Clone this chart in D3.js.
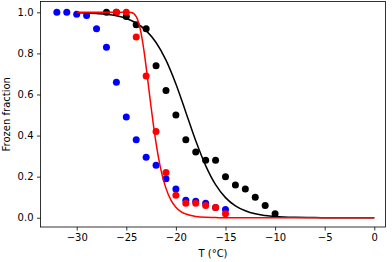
<!DOCTYPE html>
<html>
<head>
<meta charset="utf-8">
<script src="https://cdn.jsdelivr.net/npm/d3@7"></script>
<style>
html,body{margin:0;padding:0;background:#fff;}
svg{display:block;}
text{font-family:"DejaVu Sans",sans-serif;}
</style>
</head>
<body>
<svg id="chart" width="392" height="262"></svg>
<script>
// Scatter data (temperature °C, frozen fraction)
const blueT = [-32,-31,-30,-29,-28,-27,-26,-25,-24,-23,-22,-21,-20,-19,-18,-17,-16,-15];
const blueF = [1.0,1.0,0.99,0.985,0.92,0.83,0.66,0.49,0.38,0.295,0.255,0.19,0.14,0.085,0.08,0.07,0.05,0.04];

const redT = [-26,-25,-24,-23,-22,-21,-20,-19,-18,-17,-16,-15];
const redF = [1.0,1.0,0.88,0.69,0.42,0.22,0.11,0.07,0.07,0.06,0.05,0.02];

const blackT = [-27,-26,-25,-24,-23,-22,-21,-20,-19,-18,-17,-16,-15,-14,-13,-12,-11,-10];
const blackF = [1.0,1.0,0.98,0.94,0.92,0.74,0.62,0.50,0.38,0.32,0.28,0.28,0.20,0.16,0.14,0.10,0.06,0.02];

// Fitted curves
const blackCurveT = [-30,-29,-28,-27,-26,-25,-24,-23,-22,-21,-20,-19,-18,-17,-16,-15,-14,-13,-12,-11,-10,-8,-6,-4,-2,0];
const blackCurveF = [0.998,0.997,0.994,0.990,0.983,0.970,0.948,0.911,0.853,0.767,0.651,0.514,0.375,0.254,0.161,0.098,0.058,0.034,0.019,0.011,0.006,0.002,0.001,0.0,0.0,0.0];

const redCurveT = [-30,-26,-25,-24.5,-24,-23.75,-23.5,-23.25,-23,-22.75,-22.5,-22.25,-22,-21.75,-21.5,-21.25,-21,-20.5,-20,-19.5,-19,-18,-17,-16,-15,-14,-12,-10,0];
const redCurveF = [1.0,1.0,1.0,0.999,0.979,0.948,0.896,0.823,0.734,0.636,0.538,0.446,0.363,0.292,0.232,0.183,0.143,0.086,0.051,0.030,0.018,0.006,0.002,0.001,0.0,0.0,0.0,0.0,0.0];

const xTicks = [-30,-25,-20,-15,-10,-5,0];
const yTicks = [0.0,0.2,0.4,0.6,0.8,1.0];

const svg = d3.select("#chart");
const L = 40.5, R = 385.5, T = 1.5, B = 227;

const x = d3.scaleLinear().domain([-33.65, 1.13]).range([L, R]);
const y = d3.scaleLinear().domain([-0.045, 1.0526]).range([B, T]);

const minus = s => s.replace("-", "\u2212");

// scatter points
function dots(ts, fs, color) {
  svg.append("g").selectAll("circle").data(ts.map((t,i)=>[t,fs[i]])).join("circle")
    .attr("cx", d=>x(d[0])).attr("cy", d=>y(d[1])).attr("r", 3.5).attr("fill", color);
}
dots(blueT, blueF, "#0000ff");
dots(blackT, blackF, "#000000");
dots(redT, redF, "#ff0000");

// curves
const line = d3.line().x(d=>x(d[0])).y(d=>y(d[1])).curve(d3.curveMonotoneX);
svg.append("path").datum(blackCurveT.map((t,i)=>[t,blackCurveF[i]]))
  .attr("d", line).attr("fill","none").attr("stroke","#000").attr("stroke-width",1.5);
svg.append("path").datum(redCurveT.map((t,i)=>[t,redCurveF[i]]))
  .attr("d", line).attr("fill","none").attr("stroke","#ff0000").attr("stroke-width",1.5);

// axes
const xAxis = d3.axisBottom(x).tickValues(xTicks).tickSize(3.5).tickPadding(3.5)
  .tickFormat(d => minus(d3.format("d")(d)));
const gx = svg.append("g").attr("transform", `translate(0,${B})`).call(xAxis);
const yAxis = d3.axisLeft(y).tickValues(yTicks).tickSize(3.5).tickPadding(3.5)
  .tickFormat(d3.format(".1f"));
const gy = svg.append("g").attr("transform", `translate(${L},0)`).call(yAxis);
[gx, gy].forEach(g => {
  g.select(".domain").remove();
  g.selectAll(".tick line").attr("stroke","#000").attr("stroke-width",0.8);
  g.selectAll(".tick text").attr("fill","#000").style("font-size","10px").style("font-family","DejaVu Sans");
});

// frame
svg.append("rect").attr("x", L).attr("y", T).attr("width", R-L).attr("height", B-T)
  .attr("fill","none").attr("stroke","#000").attr("stroke-width",0.8);

// labels
svg.append("text").attr("x", (L+R)/2).attr("y", 257).attr("text-anchor","middle")
  .style("font-size","10px").attr("fill","#000").text("T (°C)");
svg.append("text").attr("transform", `translate(10,${(T+B)/2}) rotate(-90)`).attr("text-anchor","middle")
  .style("font-size","10px").attr("fill","#000").text("Frozen fraction");
</script>
</body>
</html>
